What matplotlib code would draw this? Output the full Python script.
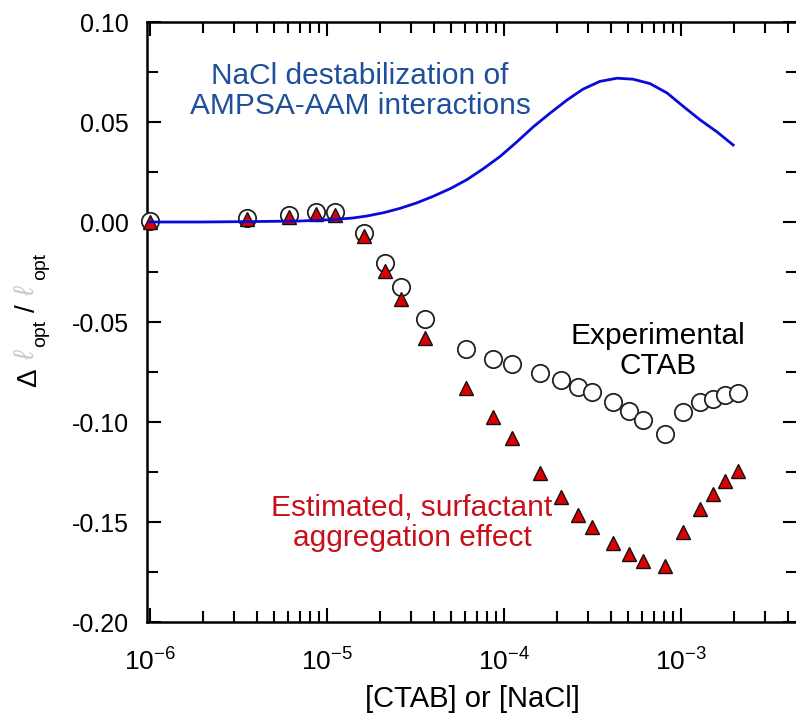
import matplotlib
matplotlib.use("Agg")
import matplotlib.pyplot as plt
from matplotlib.ticker import LogLocator, FixedLocator, MultipleLocator, FormatStrFormatter, NullFormatter
from matplotlib.transforms import IdentityTransform

plt.rcParams['font.family'] = ['Liberation Sans', 'DejaVu Sans']
plt.rcParams['mathtext.fontset'] = 'custom'
plt.rcParams['mathtext.rm'] = 'Liberation Sans'
plt.rcParams['mathtext.default'] = 'regular'
plt.rcParams['axes.unicode_minus'] = False

# ---- data ----
conc = [1.0e-6, 3.53e-6, 6.1e-6, 8.7e-6, 1.11e-5, 1.62e-5, 2.13e-5, 2.62e-5, 3.58e-5,
        6.1e-5, 8.67e-5, 1.11e-4, 1.6e-4, 2.1e-4, 2.62e-4, 3.14e-4, 4.13e-4, 5.08e-4,
        6.1e-4, 8.1e-4, 1.03e-3, 1.28e-3, 1.52e-3, 1.77e-3, 2.1e-3]
experimental = [0.0007, 0.0018, 0.0035, 0.0049, 0.0049, -0.0053, -0.0203, -0.0325, -0.0485,
                -0.0635, -0.0685, -0.071, -0.0755, -0.079, -0.0825, -0.085, -0.09, -0.0945,
                -0.099, -0.106, -0.095, -0.09, -0.0885, -0.0865, -0.0855]
estimated = [0.0, 0.0015, 0.0027, 0.0039, 0.0035, -0.007, -0.0245, -0.0385, -0.058,
             -0.083, -0.0975, -0.108, -0.1255, -0.1375, -0.1465, -0.1525, -0.1605, -0.166,
             -0.1695, -0.172, -0.155, -0.1435, -0.136, -0.1295, -0.1245]
nacl_x = [1.0e-6, 1.92e-6, 3.67e-6, 7.04e-6, 1.08e-5, 1.40e-5, 1.68e-5, 2.10e-5, 2.58e-5,
          3.20e-5, 3.97e-5, 5.00e-5, 6.18e-5, 7.60e-5, 9.48e-5, 1.18e-4, 1.46e-4, 1.82e-4,
          2.27e-4, 2.79e-4, 3.48e-4, 4.35e-4, 5.36e-4, 6.68e-4, 8.34e-4, 1.03e-3, 1.28e-3,
          1.60e-3, 1.97e-3]
nacl_y = [0.0, 0.0, 0.0002, 0.0005, 0.0012, 0.0020, 0.0030, 0.0047, 0.0068,
          0.0095, 0.0128, 0.0168, 0.0212, 0.0265, 0.0327, 0.0400, 0.0475, 0.0544,
          0.0610, 0.0664, 0.0703, 0.0719, 0.0714, 0.0692, 0.0645, 0.0578, 0.0511,
          0.0450, 0.0385]
yticks = [-0.20, -0.15, -0.10, -0.05, 0.00, 0.05, 0.10]
xticks = [1e-6, 1e-5, 1e-4, 1e-3]
xticklabels = ['$10^{-6}$', '$10^{-5}$', '$10^{-4}$', '$10^{-3}$']

W, H = 796, 719
fig = plt.figure(figsize=(W / 100, H / 100), dpi=100)
ax = fig.add_axes([147 / W, 1 - 622 / H, (797 - 147) / W, (622 - 22) / H])

ax.plot(conc, experimental, 'o', ms=12.5, mfc='white', mec='#222222', mew=1.3,
        clip_on=False, zorder=3)
ax.plot(conc, estimated, '^', ms=9.5, mfc='#dd0000', mec='#111111', mew=1.0,
        clip_on=False, zorder=4)
ax.plot(nacl_x, nacl_y, '-', color='#0a0ad8', lw=2.0, zorder=5)

ax.set_xscale('log')
ax.set_xlim(0.962e-6, 4.52e-3)
ax.set_ylim(-0.20, 0.10)

ax.xaxis.set_major_locator(FixedLocator(xticks))
ax.set_xticklabels(xticklabels)
ax.xaxis.set_minor_locator(LogLocator(base=10, subs=range(2, 10), numticks=20))
ax.xaxis.set_minor_formatter(NullFormatter())
ax.set_yticks(yticks)
ax.yaxis.set_major_formatter(FormatStrFormatter('%.2f'))
ax.yaxis.set_minor_locator(MultipleLocator(0.025))

ax.tick_params(which='both', direction='in', top=True, right=True, width=1.5,
               labelsize=18, colors='black')
ax.tick_params(which='major', length=10)
ax.tick_params(which='minor', length=8)
ax.tick_params(axis='y', which='major', pad=13)
ax.tick_params(axis='x', which='major', pad=19, labelsize=19)
for s in ax.spines.values():
    s.set_linewidth(1.8)

ax.set_xlabel('[CTAB] or [NaCl]', fontsize=21, labelpad=7)

# annotations
tr = IdentityTransform()
ax.text(360, H - 91, 'NaCl destabilization of\nAMPSA-AAM interactions', transform=tr,
        ha='center', va='center', fontsize=21.5, color='#1d4f9a', linespacing=1.05)
ax.text(658, H - 351, 'Experimental\nCTAB', transform=tr,
        ha='center', va='center', fontsize=21.5, color='black', linespacing=1.05)
ax.text(412, H - 523, 'Estimated, surfactant\naggregation effect', transform=tr,
        ha='center', va='center', fontsize=21.5, color='#c8101a', linespacing=1.05)

# y label composed of pieces
fig.text(29, H - 378, '\u0394', transform=tr, rotation=90, ha='center', va='center', fontsize=20)
fig.text(27, H - 356, '\u2113', transform=tr, rotation=90, ha='center', va='center', fontsize=20,
         color='#c8c8c8', style='italic')
fig.text(41, H - 333, 'opt', transform=tr, rotation=90, ha='center', va='center', fontsize=14)
fig.text(28, H - 308, '/', transform=tr, rotation=90, ha='center', va='center', fontsize=20)
fig.text(27, H - 291, '\u2113', transform=tr, rotation=90, ha='center', va='center', fontsize=20,
         color='#c8c8c8', style='italic')
fig.text(41, H - 266, 'opt', transform=tr, rotation=90, ha='center', va='center', fontsize=14)

fig.savefig('out.png', dpi=100)
